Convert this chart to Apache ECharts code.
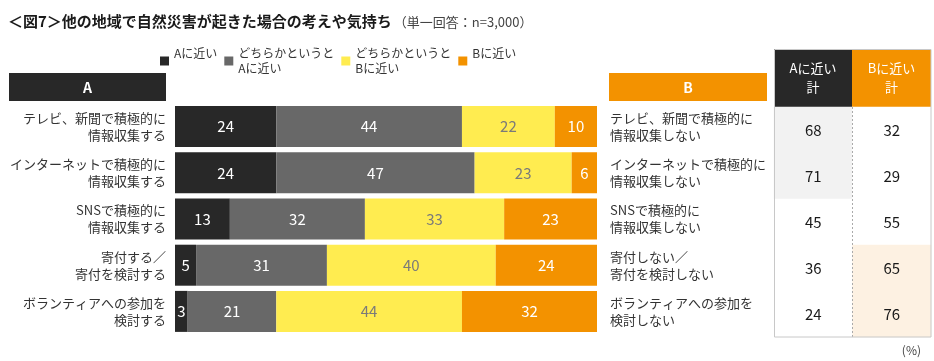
<!DOCTYPE html>
<html>
<head>
<meta charset="utf-8">
<script src="https://cdn.jsdelivr.net/npm/echarts@6/dist/echarts.min.js"></script>
<style>
html,body{margin:0;padding:0;background:#fff;}
#chart{width:934px;height:361px;}
</style>
</head>
<body>
<div id="chart"></div>
<script>
// ---- data ----
var labelsA = ['テレビ、新聞で積極的に\n情報収集する', 'インターネットで積極的に\n情報収集する', 'SNSで積極的に\n情報収集する', '寄付する／\n寄付を検討する', 'ボランティアへの参加を\n検討する'];
var labelsB = ['テレビ、新聞で積極的に\n情報収集しない', 'インターネットで積極的に\n情報収集しない', 'SNSで積極的に\n情報収集しない', '寄付しない／\n寄付を検討しない', 'ボランティアへの参加を\n検討しない'];
var seriesNames = ['Aに近い', 'どちらかというと\nAに近い', 'どちらかというと\nBに近い', 'Bに近い'];
var nearA = [24, 24, 13, 5, 3];
var leanA = [44, 47, 32, 31, 21];
var leanB = [22, 23, 33, 40, 44];
var nearB = [10, 6, 23, 24, 32];
var totalA = [68, 71, 45, 36, 24];
var totalB = [32, 29, 55, 65, 76];
var totalCols = ['Aに近い計', 'Bに近い計'];

// ---- styles ----
var FONT = '"Noto Sans CJK JP", "Noto Sans", sans-serif';
var colors = ['#282828', '#686868', '#ffec50', '#f39200'];
var labelColors = ['#ffffff', '#ffffff', '#7a7a7a', '#ffffff'];

var chart = echarts.init(document.getElementById('chart'), null, {renderer: 'canvas'});

var values = [nearA, leanA, leanB, nearB];
var barSeries = values.map(function (arr, i) {
  return {
    name: seriesNames[i],
    type: 'bar',
    stack: 'total',
    xAxisIndex: 0,
    yAxisIndex: 0,
    barWidth: 41,
    clip: true,
    itemStyle: {color: colors[i]},
    label: {
      show: true,
      position: 'inside',
      color: labelColors[i],
      fontSize: 15,
      fontFamily: FONT
    },
    data: arr
  };
});

var heatData = [];
totalA.forEach(function (v, r) {
  heatData.push({value: [0, r, v], itemStyle: {color: v >= 60 ? '#f2f2f2' : '#ffffff'}});
});
totalB.forEach(function (v, r) {
  heatData.push({value: [1, r, v], itemStyle: {color: v >= 60 ? '#fdf1e2' : '#ffffff'}});
});

var option = {
  animation: false,
  backgroundColor: '#ffffff',
  textStyle: {fontFamily: FONT},
  title: {
    left: 3,
    top: 9,
    text: '{a|＜図7＞他の地域で自然災害が起きた場合の考えや気持ち}{b|（単一回答：n=3,000）}',
    textStyle: {
      rich: {
        a: {fontSize: 15, fontWeight: 'bold', color: '#1a1a1a', fontFamily: FONT},
        b: {fontSize: 13, fontWeight: 'normal', color: '#444', fontFamily: FONT, padding: [1, 0, 0, 2]}
      }
    }
  },
  legend: {
    left: 155,
    top: 41,
    itemWidth: 9,
    itemHeight: 9,
    itemGap: 7,
    icon: 'rect',
    formatter: function (name) { return name.indexOf('\n') < 0 ? name + '\n ' : name; },
    textStyle: {fontSize: 12, color: '#333', lineHeight: 15, fontFamily: FONT},
    data: seriesNames
  },
  grid: [
    {left: 175, right: 337, top: 103.5, bottom: 26.5},
    {left: 774, right: 3, top: 107, bottom: 24}
  ],
  xAxis: [
    {type: 'value', gridIndex: 0, min: 0, max: 100, show: false},
    {type: 'category', gridIndex: 1, data: totalCols, show: false}
  ],
  yAxis: [
    {
      type: 'category', gridIndex: 0, inverse: true, data: labelsA, position: 'left',
      axisLine: {show: false}, axisTick: {show: false},
      axisLabel: {margin: 9, fontSize: 13, color: '#333', lineHeight: 17, align: 'right', fontFamily: FONT}
    },
    {
      type: 'category', gridIndex: 0, inverse: true, data: labelsB, position: 'right',
      axisLine: {show: false}, axisTick: {show: false},
      axisLabel: {margin: 13, fontSize: 13, color: '#333', lineHeight: 17, align: 'left', fontFamily: FONT}
    },
    {type: 'category', gridIndex: 1, inverse: true, data: labelsB, show: false}
  ],
  series: barSeries.concat([{
    type: 'heatmap',
    xAxisIndex: 1,
    yAxisIndex: 2,
    data: heatData,
    label: {show: true, fontSize: 15, color: '#1a1a1a', fontFamily: FONT,
      formatter: function (p) { return p.value[2]; }},
    emphasis: {disabled: true}
  }]),
  graphic: [
    {type: 'rect', shape: {x: 9, y: 73, width: 157, height: 28}, style: {fill: '#282828'}},
    {type: 'text', x: 87.5, y: 87.5, style: {text: 'A', fill: '#fff', font: 'bold 14px ' + FONT, align: 'center', verticalAlign: 'middle'}},
    {type: 'rect', shape: {x: 609, y: 73, width: 158, height: 28}, style: {fill: '#f39200'}},
    {type: 'text', x: 688, y: 87.5, style: {text: 'B', fill: '#fff', font: 'bold 14px ' + FONT, align: 'center', verticalAlign: 'middle'}},
    {type: 'rect', shape: {x: 774, y: 49, width: 78, height: 58}, style: {fill: '#282828'}},
    {type: 'text', x: 813, y: 78, style: {text: 'Aに近い\n計', fill: '#fff', font: '13px ' + FONT, lineHeight: 19, align: 'center', verticalAlign: 'middle'}},
    {type: 'rect', shape: {x: 852, y: 49, width: 79, height: 58}, style: {fill: '#f39200'}},
    {type: 'text', x: 891.5, y: 78, style: {text: 'Bに近い\n計', fill: '#fff', font: '13px ' + FONT, lineHeight: 19, align: 'center', verticalAlign: 'middle'}},
    {type: 'line', z: 100, shape: {x1: 852.5, y1: 107, x2: 852.5, y2: 337}, style: {stroke: '#aaaaaa', lineWidth: 1, lineDash: [2, 2]}},
    {type: 'rect', z: 100, shape: {x: 774.5, y: 49.5, width: 156.5, height: 287.5}, style: {fill: 'none', stroke: '#c8c8c8', lineWidth: 1}},
    {type: 'text', x: 921, y: 350, style: {text: '(%)', fill: '#444', font: '12px ' + FONT, align: 'right', verticalAlign: 'middle'}}
  ]
};
chart.setOption(option);
</script>
</body>
</html>
